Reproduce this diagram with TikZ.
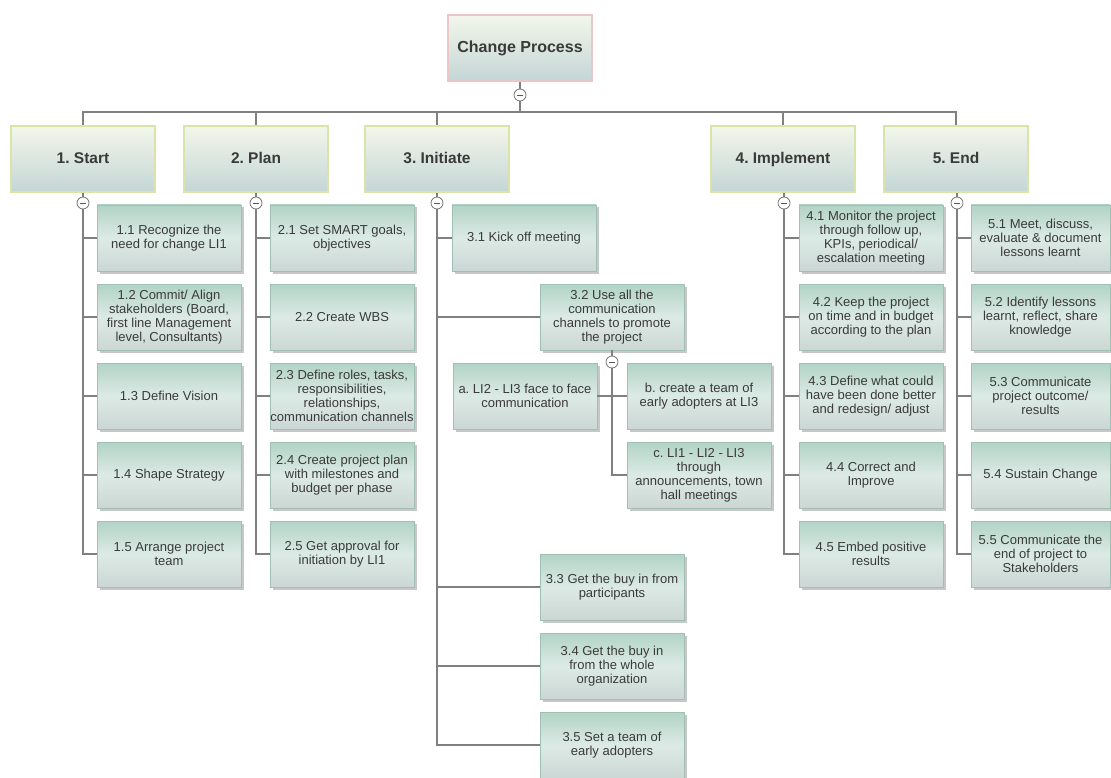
\documentclass[tikz,border=0pt]{standalone}
\usepackage{fontspec}
\setmainfont{Liberation Sans}
\frenchspacing
\usetikzlibrary{shadows}
\definecolor{linec}{RGB}{128,128,128}
\definecolor{leaftop}{RGB}{178,211,198}
\definecolor{leafmid}{RGB}{220,234,229}
\definecolor{leafbot}{RGB}{204,215,212}
\definecolor{leafedge}{RGB}{160,192,180}
\definecolor{ltop}{RGB}{243,246,234}
\definecolor{lbot}{RGB}{196,214,214}
\definecolor{ledge}{RGB}{216,228,168}
\definecolor{redge}{RGB}{234,198,198}
\definecolor{txt}{RGB}{58,58,58}
\tikzset{
  boxshadow/.style={drop shadow={shadow xshift=2.5pt,shadow yshift=-2.5pt,opacity=0.4,fill=black!55}},
  leaf/.style={rectangle, minimum width=144pt, minimum height=66pt, inner sep=0pt,
    align=center, font=\fontsize{13}{14}\selectfont, text=txt,
    top color=leaftop, bottom color=leafbot, middle color=leafmid,
    draw=leafedge, line width=0.8pt, boxshadow},
  lvl/.style={rectangle, minimum width=144pt, minimum height=66pt, inner sep=0pt,
    align=center, font=\fontsize{15.5}{17}\selectfont\bfseries, text=txt,
    text height=11.5pt, text depth=3pt,
    top color=ltop, bottom color=lbot, draw=ledge, line width=1.6pt},
  rootbox/.style={lvl, draw=redge, font=\fontsize{16}{18}\selectfont\bfseries},
  tog/.style={circle, draw=txt!75, fill=white, line width=0.7pt, minimum size=12pt, inner sep=0pt, text=txt!85},
  conn/.style={draw=linec, line width=1.1pt},
}
\newcommand{\mn}{\rule[-0.4pt]{6pt}{0.8pt}}
\begin{document}
\begin{tikzpicture}[x=1pt,y=-1pt]
\useasboundingbox (0,0) rectangle (1111,778);
\fill[white] (0,0) rectangle (1111,778);

% root and hub
\coordinate (hub) at (520,112);
\node[rootbox] (root) at (520,48) {Change Process};
\node[lvl] (n1) at (83,159) {1. Start};
\node[lvl] (n2) at (256,159) {2. Plan};
\node[lvl] (n3) at (437,159) {3. Initiate};
\node[lvl] (n4) at (783,159) {4. Implement};
\node[lvl] (n5) at (956,159) {5. End};

\draw[conn] (root.south) -- (hub);
\draw[conn] (n1.north) |- (hub);
\draw[conn] (n5.north) |- (hub);
\foreach \n in {n2,n3,n4} \draw[conn] (\n.north) -- (\n.north |- hub);

% 1. Start
\node[leaf] (s1) at (169,238) {1.1 Recognize the\\need for change LI1};
\node[leaf] (s2) at (169,317) {1.2 Commit/ Align\\stakeholders (Board,\\first line Management\\level, Consultants)};
\node[leaf] (s3) at (169,396) {1.3 Define Vision};
\node[leaf] (s4) at (169,475) {1.4 Shape Strategy};
\node[leaf] (s5) at (169,554) {1.5 Arrange project\\team};

% 2. Plan
\node[leaf] (p1) at (342,238) {2.1 Set SMART goals,\\objectives};
\node[leaf] (p2) at (342,317) {2.2 Create WBS};
\node[leaf] (p3) at (342,396) {2.3 Define roles, tasks,\\responsibilities,\\relationships,\\communication channels};
\node[leaf] (p4) at (342,475) {2.4 Create project plan\\with milestones and\\budget per phase};
\node[leaf] (p5) at (342,554) {2.5 Get approval for\\initiation by LI1};

% 3. Initiate
\node[leaf] (i1) at (524,238) {3.1 Kick off meeting};
\node[leaf] (i2) at (612,317) {3.2 Use all the\\communication\\channels to promote\\the project};
\node[leaf] (ia) at (525,396) {a. LI2 - LI3 face to face\\communication};
\node[leaf] (ib) at (699,396) {b. create a team of\\early adopters at LI3};
\node[leaf] (ic) at (699,475) {c. LI1 - LI2 - LI3\\through\\announcements, town\\hall meetings};
\node[leaf] (i3) at (612,587) {3.3 Get the buy in from\\participants};
\node[leaf] (i4) at (612,666) {3.4 Get the buy in\\from the whole\\organization};
\node[leaf] (i5) at (612,745) {3.5 Set a team of\\early adopters};

% 4. Implement
\node[leaf] (m1) at (871,238) {4.1 Monitor the project\\through follow up,\\KPIs, periodical/\\escalation meeting};
\node[leaf] (m2) at (871,317) {4.2 Keep the project\\on time and in budget\\according to the plan};
\node[leaf] (m3) at (871,396) {4.3 Define what could\\have been done better\\and redesign/ adjust};
\node[leaf] (m4) at (871,475) {4.4 Correct and\\Improve};
\node[leaf] (m5) at (871,554) {4.5 Embed positive\\results};

% 5. End
\node[leaf, minimum width=139pt] (e1) at (1040.5,238) {5.1 Meet, discuss,\\evaluate \& document\\lessons learnt};
\node[leaf, minimum width=139pt] (e2) at (1040.5,317) {5.2 Identify lessons\\learnt, reflect, share\\knowledge};
\node[leaf, minimum width=139pt] (e3) at (1040.5,396) {5.3 Communicate\\project outcome/\\results};
\node[leaf, minimum width=139pt] (e4) at (1040.5,475) {5.4 Sustain Change};
\node[leaf, minimum width=139pt] (e5) at (1040.5,554) {5.5 Communicate the\\end of project to\\Stakeholders};

% toggle positions
\coordinate (p0) at (520,95);
\coordinate (p1c) at (83,203);
\coordinate (p2c) at (256,203);
\coordinate (p3c) at (437,203);
\coordinate (p4c) at (784,203);
\coordinate (p5c) at (957,203);
\coordinate (p32) at (612,362);

% connectors
\draw[conn] (n1.south) -- (p1c);
\draw[conn] (n2.south) -- (p2c);
\draw[conn] (n3.south) -- (p3c);
\draw[conn] (n4.south -| p4c) -- (p4c);
\draw[conn] (n5.south -| p5c) -- (p5c);
\draw[conn] (p1c) |- (s5.west);
\foreach \c in {s1,s2,s3,s4} \draw[conn] (p1c |- \c.west) -- (\c.west);
\draw[conn] (p2c) |- (p5.west);
\foreach \c in {p1,p2,p3,p4} \draw[conn] (p2c |- \c.west) -- (\c.west);
\draw[conn] (p3c) |- (i5.west);
\foreach \c in {i1,i2,i3,i4} \draw[conn] (p3c |- \c.west) -- (\c.west);
\draw[conn] (p4c) |- (m5.west);
\foreach \c in {m1,m2,m3,m4} \draw[conn] (p4c |- \c.west) -- (\c.west);
\draw[conn] (p5c) |- (e5.west);
\foreach \c in {e1,e2,e3,e4} \draw[conn] (p5c |- \c.west) -- (\c.west);
\draw[conn] (i2.south) -- (p32);
\draw[conn] (p32) |- (ic.west);
\draw[conn] (ia.east) -- (ib.west);

% toggles on top
\node[tog] (t0) at (p0) {\mn};
\node[tog] (t1) at (p1c) {\mn};
\node[tog] (t2) at (p2c) {\mn};
\node[tog] (t3) at (p3c) {\mn};
\node[tog] (t4) at (p4c) {\mn};
\node[tog] (t5) at (p5c) {\mn};
\node[tog] (t32) at (p32) {\mn};
\end{tikzpicture}
\end{document}
